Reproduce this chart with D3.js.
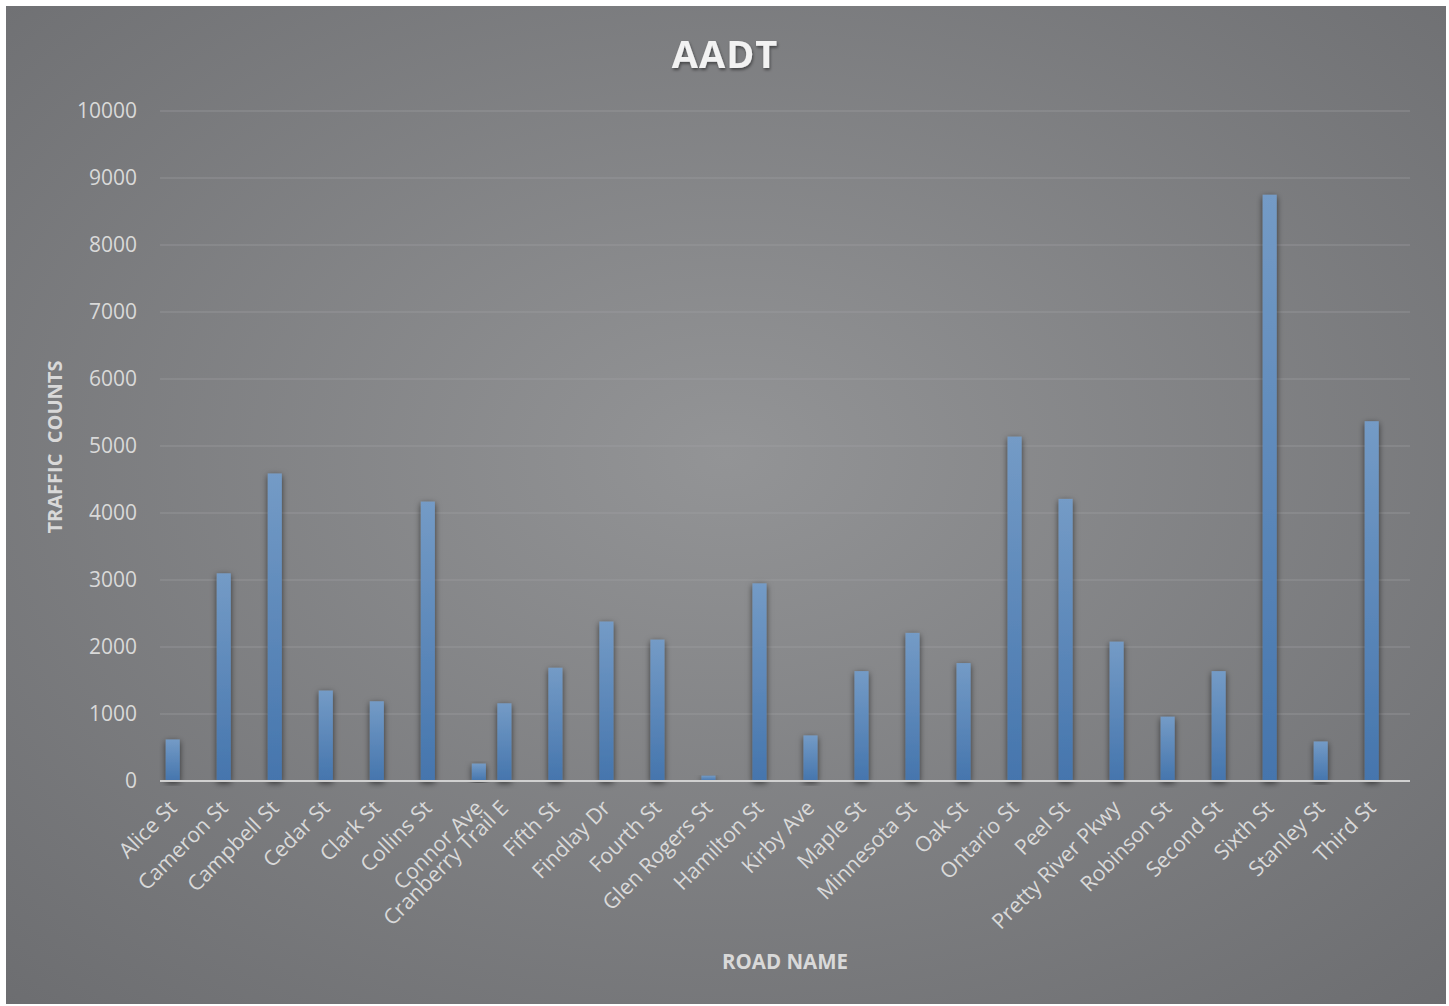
<!DOCTYPE html>
<html>
<head>
<meta charset="utf-8">
<script src="https://d3js.org/d3.v7.min.js"></script>
<style>
  body { margin: 0; background: #fff; }
  text { font-family: "Open Sans", sans-serif; }
</style>
</head>
<body>
<div id="chart"></div>
<script>
// road names as in the sheet (blank rows kept, they leave an empty slot)
var roads = ["Alice St", "", "Cameron St", "", "Campbell St", "", "Cedar St", "", "Clark St", "",
  "Collins St", "", "Connor Ave", "Cranberry Trail E", "", "Fifth St", "", "Findlay Dr", "",
  "Fourth St", "", "Glen Rogers St", "", "Hamilton St", "", "Kirby Ave", "", "Maple St", "",
  "Minnesota St", "", "Oak St", "", "Ontario St", "", "Peel St", "", "Pretty River Pkwy", "",
  "Robinson St", "", "Second St", "", "Sixth St", "", "Stanley St", "", "Third St", ""];
var aadt = [620, null, 3100, null, 4590, null, 1350, null, 1190, null,
  4170, null, 260, 1160, null, 1690, null, 2380, null,
  2110, null, 80, null, 2950, null, 680, null, 1640, null,
  2210, null, 1760, null, 5140, null, 4210, null, 2080, null,
  960, null, 1640, null, 8750, null, 590, null, 5370, null];
var yTicks = [0, 1000, 2000, 3000, 4000, 5000, 6000, 7000, 8000, 9000, 10000];

var W = 1449, H = 1006;
var svg = d3.select("#chart").append("svg")
  .attr("width", W).attr("height", H);

var defs = svg.append("defs");
var bg = defs.append("radialGradient").attr("id", "bg")
  .attr("cx", "50%").attr("cy", "45%").attr("r", "75%");
bg.append("stop").attr("offset", "0%").attr("stop-color", "#939496");
bg.append("stop").attr("offset", "100%").attr("stop-color", "#6c6d70");

var bar = defs.append("linearGradient").attr("id", "bar")
  .attr("x1", 0).attr("y1", 0).attr("x2", 0).attr("y2", 1);
bar.append("stop").attr("offset", "0%").attr("stop-color", "#749bc6");
bar.append("stop").attr("offset", "100%").attr("stop-color", "#4575ad");

var sh = defs.append("filter").attr("id", "shadow")
  .attr("x", "-80%").attr("y", "-10%").attr("width", "260%").attr("height", "120%");
sh.append("feDropShadow").attr("dx", 0).attr("dy", 2).attr("stdDeviation", 3)
  .attr("flood-color", "#000").attr("flood-opacity", 0.6);

var tsh = defs.append("filter").attr("id", "tshadow");
tsh.append("feDropShadow").attr("dx", 1).attr("dy", 2).attr("stdDeviation", 1.5)
  .attr("flood-color", "#000").attr("flood-opacity", 0.45);

svg.append("rect").attr("x", 6).attr("y", 6).attr("width", 1440).attr("height", 998)
  .attr("fill", "url(#bg)");

var plotL = 160, plotR = 1410, plotT = 111, plotB = 781;

var x = d3.scaleBand()
  .domain(d3.range(roads.length))
  .range([plotL, plotR])
  .paddingInner(0.45)
  .paddingOuter(0.225);

var y = d3.scaleLinear().domain([0, 10000]).range([plotB, plotT]);

// gridlines
svg.append("g").selectAll("line").data(yTicks.slice(1)).join("line")
  .attr("x1", plotL).attr("x2", plotR)
  .attr("y1", d => y(d)).attr("y2", d => y(d))
  .attr("stroke", "#a4a5a7").attr("stroke-opacity", 0.55).attr("stroke-width", 1.2);

// y tick labels
svg.append("g").selectAll("text").data(yTicks).join("text")
  .attr("x", 137).attr("y", d => y(d))
  .attr("dy", "0.35em")
  .attr("text-anchor", "end")
  .attr("font-size", 21)
  .attr("fill", "#d9d9d9")
  .text(d => d);

// bars
var items = roads.map((r, i) => ({ i: i, road: r, v: aadt[i] })).filter(d => d.v != null);
svg.append("g").selectAll("rect").data(items).join("rect")
  .attr("x", d => x(d.i))
  .attr("width", x.bandwidth())
  .attr("y", d => y(d.v))
  .attr("height", d => y(0) - y(d.v))
  .attr("fill", "url(#bar)")
  .attr("filter", "url(#shadow)");

// baseline
svg.append("line")
  .attr("x1", plotL).attr("x2", plotR)
  .attr("y1", y(0)).attr("y2", y(0))
  .attr("stroke", "#d0d0d0").attr("stroke-width", 2);

// x labels
svg.append("g").selectAll("text").data(items).join("text")
  .attr("transform", d => "translate(" + (x(d.i) + x.bandwidth() / 2) + "," + (y(0) + 23) + ") rotate(-45)")
  .attr("text-anchor", "end")
  .attr("dy", "0.35em")
  .attr("font-size", 21.3)
  .attr("fill", "#d9d9d9")
  .text(d => d.road);

// titles
svg.append("text")
  .attr("x", 725).attr("y", 68)
  .attr("text-anchor", "middle")
  .attr("font-size", 38).attr("font-weight", "bold")
  .attr("fill", "#f2f2f2").attr("letter-spacing", 1)
  .attr("filter", "url(#tshadow)")
  .text("AADT");

svg.append("text")
  .attr("transform", "translate(62,447) rotate(-90)")
  .attr("text-anchor", "middle")
  .attr("font-size", 20).attr("font-weight", "bold")
  .attr("fill", "#d9d9d9")
  .style("white-space", "pre")
  .text("TRAFFIC  COUNTS");

svg.append("text")
  .attr("x", 785).attr("y", 969)
  .attr("text-anchor", "middle")
  .attr("font-size", 20.5).attr("font-weight", "bold")
  .attr("fill", "#d9d9d9")
  .text("ROAD NAME");
</script>
</body>
</html>
